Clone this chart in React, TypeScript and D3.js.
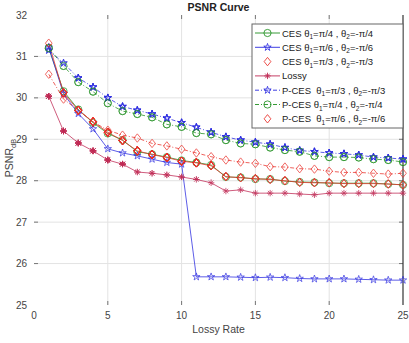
// PSNR curve - CES / P-CES vs lossy rate
import React, { useEffect, useRef } from 'react';
import * as d3 from 'd3';

const lossyRate = [1, 2, 3, 4, 5, 6, 7, 8, 9, 10, 11, 12, 13, 14, 15, 16, 17, 18, 19, 20, 21, 22, 23, 24, 25];

const cesPi4 = [31.2, 30.16, 29.72, 29.4, 29.14, 28.98, 28.7, 28.64, 28.57, 28.49, 28.44, 28.38, 28.09, 28.08, 28.04, 28.04, 27.99, 27.97, 27.96, 27.94, 27.94, 27.94, 27.94, 27.92, 27.9];
const cesPi6 = [31.22, 30.1, 29.62, 29.25, 28.77, 28.67, 28.6, 28.52, 28.44, 28.4, 25.68, 25.68, 25.68, 25.67, 25.66, 25.67, 25.66, 25.64, 25.63, 25.63, 25.63, 25.62, 25.61, 25.6, 25.6];
const cesPi3 = [31.32, 30.12, 29.7, 29.42, 29.17, 28.97, 28.72, 28.63, 28.56, 28.47, 28.43, 28.36, 28.1, 28.07, 28.05, 28.03, 28.0, 27.96, 27.95, 27.95, 27.93, 27.93, 27.93, 27.92, 27.9];
const lossy = [30.04, 29.2, 28.91, 28.72, 28.5, 28.4, 28.21, 28.18, 28.14, 28.09, 28.03, 27.95, 27.75, 27.78, 27.7, 27.7, 27.7, 27.68, 27.66, 27.7, 27.7, 27.7, 27.7, 27.7, 27.7];
const pcesPi3 = [31.15, 30.84, 30.48, 30.26, 30.0, 29.79, 29.7, 29.61, 29.51, 29.4, 29.29, 29.17, 29.06, 28.98, 28.93, 28.88, 28.8, 28.73, 28.7, 28.67, 28.65, 28.62, 28.57, 28.55, 28.52];
const pcesPi4 = [31.2, 30.77, 30.38, 30.15, 29.87, 29.68, 29.61, 29.53, 29.36, 29.3, 29.15, 29.12, 28.98, 28.9, 28.88, 28.8, 28.74, 28.7, 28.6, 28.57, 28.57, 28.56, 28.52, 28.5, 28.45];
const pcesPi6 = [30.57, 29.97, 29.7, 29.42, 29.22, 29.1, 29.03, 28.9, 28.84, 28.76, 28.67, 28.58, 28.5, 28.45, 28.42, 28.34, 28.33, 28.29, 28.28, 28.23, 28.2, 28.2, 28.18, 28.16, 28.18];

const xTicks = [0, 5, 10, 15, 20, 25];
const yTicks = [25, 26, 27, 28, 29, 30, 31, 32];

type Marker = 'circle' | 'star' | 'diamond' | 'asterisk';

// legend order
const series = [
  { name: 'CES', a: 'π/4', values: cesPi4, color: '#1f8f1f', dash: null, marker: 'circle' as Marker, legendLine: true },
  { name: 'CES', a: 'π/6', values: cesPi6, color: '#2a2ae0', dash: null, marker: 'star' as Marker, legendLine: true },
  { name: 'CES', a: 'π/3', values: cesPi3, color: '#e8302a', dash: null, marker: 'diamond' as Marker, legendLine: false },
  { name: 'Lossy', a: '', values: lossy, color: '#c02a55', dash: null, marker: 'asterisk' as Marker, legendLine: true },
  { name: 'P-CES ', a: 'π/3', values: pcesPi3, color: '#2a2ae0', dash: '4,2,1,2', marker: 'star' as Marker, legendLine: true },
  { name: 'P-CES', a: 'π/4', values: pcesPi4, color: '#1f8f1f', dash: '4,2,1,2', marker: 'circle' as Marker, legendLine: true },
  { name: 'P-CES ', a: 'π/6', values: pcesPi6, color: '#e8302a', dash: '4,2,1,2', marker: 'diamond' as Marker, legendLine: false }
];

const drawMarker = (g: any, type: Marker, x: number, y: number, color: string) => {
  if (type === 'circle') {
    g.append('circle').attr('cx', x).attr('cy', y).attr('r', 3.6)
      .attr('fill', 'none').attr('stroke', color).attr('stroke-width', 0.85);
  } else if (type === 'diamond') {
    const r = 4.2;
    g.append('path').attr('d', `M${x},${y - r}L${x + r * 0.8},${y}L${x},${y + r}L${x - r * 0.8},${y}Z`)
      .attr('fill', 'none').attr('stroke', color).attr('stroke-width', 0.85);
  } else if (type === 'star') {
    const sym = d3.symbol().type(d3.symbolStar).size(17);
    g.append('path').attr('d', sym() as string).attr('transform', `translate(${x},${y})`)
      .attr('fill', 'none').attr('stroke', color).attr('stroke-width', 0.8);
  } else {
    const r = 3.2;
    const p = d3.path();
    for (let k = 0; k < 4; k++) {
      const ang = (k * Math.PI) / 4;
      p.moveTo(x + Math.cos(ang) * r, y + Math.sin(ang) * r);
      p.lineTo(x - Math.cos(ang) * r, y - Math.sin(ang) * r);
    }
    g.append('path').attr('d', p.toString()).attr('stroke', color).attr('stroke-width', 0.9).attr('fill', 'none');
  }
};

const App: React.FC = () => {
  const svgRef = useRef<SVGSVGElement>(null);

  useEffect(() => {
    if (!svgRef.current) return;
    const svg = d3.select(svgRef.current);
    svg.selectAll('*').remove();

    const left = 34, right = 403, top = 15, bottom = 305;
    const x = d3.scaleLinear().domain([0, 25]).range([left, right]);
    const y = d3.scaleLinear().domain([25, 32]).range([bottom, top]);
    const font = '"Liberation Sans", Arial, sans-serif';

    svg.append('rect').attr('x', left).attr('y', top).attr('width', right - left).attr('height', bottom - top).attr('fill', '#fff');

    // grid
    const grid = svg.append('g');
    xTicks.slice(1, -1).forEach(t => {
      grid.append('line').attr('x1', x(t)).attr('x2', x(t)).attr('y1', top).attr('y2', bottom)
        .attr('stroke', '#e3e3e3').attr('stroke-width', 1);
    });
    yTicks.slice(1, -1).forEach(t => {
      grid.append('line').attr('x1', left).attr('x2', right).attr('y1', y(t)).attr('y2', y(t))
        .attr('stroke', '#e3e3e3').attr('stroke-width', 1);
    });

    // tick marks
    const ticks = svg.append('g').attr('stroke', '#777').attr('stroke-width', 1);
    xTicks.slice(1, -1).forEach(t => {
      ticks.append('line').attr('x1', x(t)).attr('x2', x(t)).attr('y1', bottom).attr('y2', bottom - 4);
      ticks.append('line').attr('x1', x(t)).attr('x2', x(t)).attr('y1', top).attr('y2', top + 4);
    });
    yTicks.slice(1, -1).forEach(t => {
      ticks.append('line').attr('x1', left).attr('x2', left + 4).attr('y1', y(t)).attr('y2', y(t));
      ticks.append('line').attr('x1', right).attr('x2', right - 4).attr('y1', y(t)).attr('y2', y(t));
    });
    svg.append('line').attr('x1', right).attr('x2', right).attr('y1', top).attr('y2', bottom)
      .attr('stroke', '#333').attr('stroke-width', 1.2);

    // tick labels
    svg.append('g').selectAll('text').data(xTicks).enter().append('text')
      .attr('x', d => x(d)).attr('y', 319).attr('text-anchor', 'middle')
      .attr('font-family', font).attr('font-size', 10).attr('fill', '#444').text(d => d);
    svg.append('g').selectAll('text').data(yTicks).enter().append('text')
      .attr('x', 27).attr('y', d => y(d) + 3.5).attr('text-anchor', 'end')
      .attr('font-family', font).attr('font-size', 10).attr('fill', '#444').text(d => d);

    // titles
    svg.append('text').attr('x', (left + right) / 2).attr('y', 11).attr('text-anchor', 'middle')
      .attr('font-family', font).attr('font-size', 10.5).attr('font-weight', 'bold').attr('fill', '#222')
      .text('PSNR Curve');
    svg.append('text').attr('x', (left + right) / 2).attr('y', 333).attr('text-anchor', 'middle')
      .attr('font-family', font).attr('font-size', 10.5).attr('fill', '#444').text('Lossy Rate');
    const yl = svg.append('text').attr('transform', `translate(13,${(top + bottom) / 2 - 2}) rotate(-90)`)
      .attr('text-anchor', 'middle').attr('font-family', font).attr('font-size', 10.5).attr('fill', '#444');
    yl.append('tspan').text('PSNR');
    yl.append('tspan').attr('font-size', 7.5).attr('dy', 3).text('dB');

    // lines
    const line = d3.line<number>().x((_, i) => x(lossyRate[i])).y(d => y(d));
    const plot = svg.append('g');
    series.forEach(s => {
      plot.append('path').attr('d', line(s.values) as string)
        .attr('fill', 'none').attr('stroke', s.color).attr('stroke-width', 0.9)
        .attr('stroke-dasharray', s.dash).attr('opacity', 0.85);
    });
    series.forEach(s => {
      const mg = plot.append('g').attr('opacity', 0.85);
      s.values.forEach((v, i) => drawMarker(mg, s.marker, x(lossyRate[i]), y(v), s.color));
    });

    // legend
    const lg = svg.append('g');
    lg.append('rect').attr('x', 252).attr('y', 24).attr('width', 151).attr('height', 104)
      .attr('fill', '#fff').attr('stroke', '#666').attr('stroke-width', 1);
    series.forEach((s, i) => {
      const ly = 33 + i * 14.3;
      if (s.legendLine) {
        lg.append('line').attr('x1', 255).attr('x2', 280).attr('y1', ly).attr('y2', ly)
          .attr('stroke', s.color).attr('stroke-width', 0.9).attr('stroke-dasharray', s.dash);
      }
      drawMarker(lg, s.marker, 267.5, ly, s.color);
      const t = lg.append('text').attr('x', 282).attr('y', ly + 3.5)
        .attr('font-family', font).attr('font-size', 9.5).attr('fill', '#222').attr('xml:space', 'preserve');
      if (!s.a) {
        t.text(s.name);
      } else {
        t.append('tspan').text(`${s.name} θ`);
        t.append('tspan').attr('font-size', 6.5).attr('dy', 2.5).text('1');
        t.append('tspan').attr('dy', -2.5).text(`=${s.a} , θ`);
        t.append('tspan').attr('font-size', 6.5).attr('dy', 2.5).text('2');
        t.append('tspan').attr('dy', -2.5).text(`=-${s.a}`);
      }
    });
  }, []);

  return (
    <svg ref={svgRef} width={409} height={343}
      style={{ position: 'absolute', left: 0, top: 0, display: 'block', background: '#fff' }} />
  );
};

export default App;
